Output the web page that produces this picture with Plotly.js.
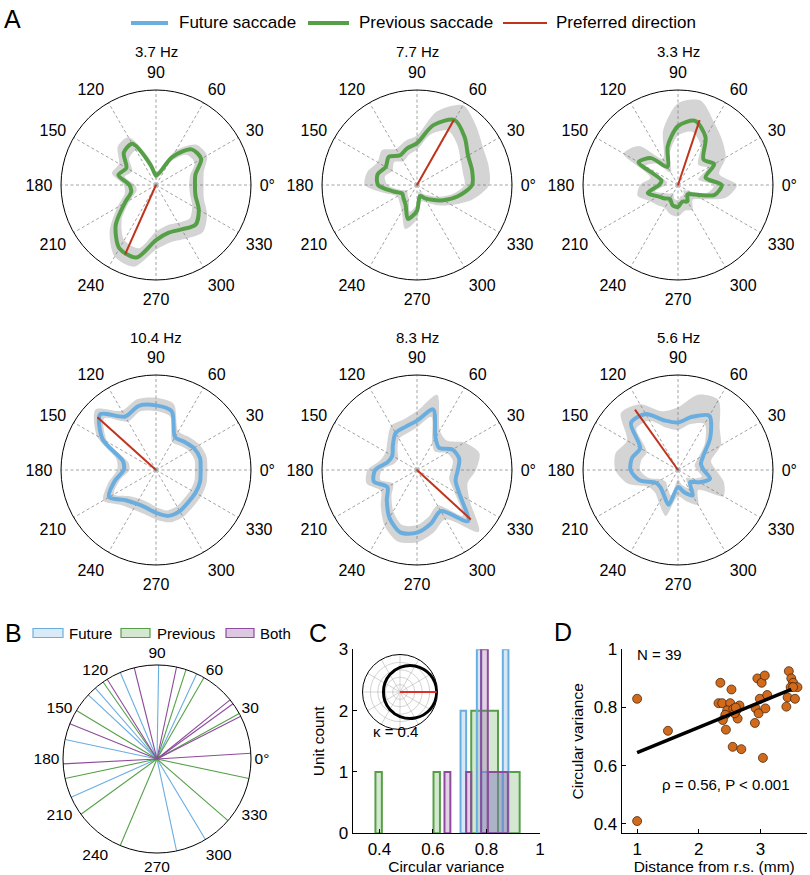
<!DOCTYPE html>
<html><head><meta charset="utf-8">
<script src="https://cdn.plot.ly/plotly-3.0.1.min.js"></script>
<style>html,body{margin:0;padding:0;background:#fff}#chart{width:810px;height:875px}</style>
</head><body><div id="chart"></div>
<script>
// ---------------- DATA ----------------
const tuningAngles = [0,15,30,45,60,75,90,105,120,135,150,165,180,195,210,225,240,255,270,285,300,315,330,345];
const unitRates = ['3.7 Hz','7.7 Hz','3.3 Hz','10.4 Hz','8.3 Hz','5.6 Hz'];
const unitTypes = ['previous','previous','previous','future','future','future'];
const prefAngles = [246, 60.5, 71.6, 138, 317.4, 125.5];
const prefR = [0.80, 0.79, 0.72, 0.83, 0.77, 0.78];

const unit1Mean  = [0.41,0.43,0.55,0.53,0.34,0.13,0.10,0.22,0.50,0.48,0.36,0.41,0.28,0.27,0.38,0.60,0.77,0.79,0.58,0.52,0.54,0.59,0.52,0.43];
const unit1Lower = [0.35,0.37,0.47,0.45,0.27,0.08,0.05,0.15,0.42,0.40,0.29,0.34,0.22,0.21,0.31,0.51,0.67,0.69,0.49,0.44,0.46,0.50,0.44,0.37];
const unit1Upper = [0.50,0.52,0.62,0.60,0.42,0.18,0.14,0.30,0.58,0.57,0.45,0.48,0.34,0.34,0.47,0.69,0.87,0.89,0.68,0.62,0.65,0.70,0.62,0.52];

const unit2Mean  = [0.58,0.60,0.62,0.71,0.79,0.65,0.44,0.40,0.36,0.42,0.38,0.43,0.41,0.26,0.18,0.20,0.24,0.37,0.27,0.12,0.16,0.22,0.32,0.45];
const unit2Lower = [0.50,0.50,0.53,0.60,0.66,0.55,0.37,0.33,0.29,0.34,0.30,0.35,0.31,0.19,0.12,0.14,0.17,0.29,0.20,0.07,0.10,0.15,0.25,0.38];
const unit2Upper = [0.76,0.78,0.80,0.88,0.97,0.80,0.52,0.48,0.44,0.52,0.48,0.54,0.55,0.34,0.24,0.26,0.32,0.48,0.36,0.18,0.22,0.30,0.42,0.60];

const unit3Mean  = [0.46,0.30,0.44,0.38,0.58,0.70,0.62,0.42,0.22,0.40,0.48,0.18,0.20,0.33,0.24,0.20,0.17,0.22,0.23,0.18,0.20,0.14,0.20,0.40];
const unit3Lower = [0.38,0.22,0.36,0.30,0.48,0.58,0.52,0.34,0.15,0.32,0.40,0.12,0.13,0.25,0.17,0.13,0.10,0.15,0.16,0.12,0.13,0.08,0.13,0.32];
const unit3Upper = [0.62,0.45,0.58,0.66,0.76,0.92,0.86,0.60,0.32,0.58,0.66,0.30,0.40,0.44,0.34,0.30,0.28,0.32,0.33,0.28,0.30,0.22,0.30,0.52];

const unit4Mean  = [0.47,0.48,0.46,0.42,0.40,0.64,0.68,0.70,0.65,0.83,0.65,0.36,0.34,0.45,0.57,0.45,0.41,0.41,0.45,0.50,0.50,0.48,0.48,0.48];
const unit4Lower = [0.41,0.42,0.40,0.36,0.34,0.58,0.62,0.64,0.59,0.77,0.59,0.30,0.28,0.39,0.51,0.39,0.35,0.35,0.39,0.44,0.44,0.42,0.42,0.42];
const unit4Upper = [0.54,0.55,0.53,0.49,0.47,0.72,0.76,0.77,0.72,0.90,0.72,0.43,0.41,0.52,0.64,0.52,0.48,0.48,0.52,0.57,0.57,0.55,0.55,0.55];

const unit5Mean  = [0.43,0.46,0.43,0.33,0.39,0.66,0.52,0.47,0.45,0.36,0.30,0.32,0.44,0.47,0.36,0.45,0.58,0.68,0.66,0.58,0.50,0.76,0.52,0.42];
const unit5Lower = [0.36,0.39,0.36,0.27,0.32,0.58,0.45,0.40,0.38,0.29,0.23,0.25,0.37,0.40,0.29,0.38,0.50,0.60,0.58,0.50,0.43,0.68,0.45,0.35];
const unit5Upper = [0.62,0.68,0.58,0.44,0.48,0.82,0.62,0.55,0.54,0.44,0.38,0.40,0.52,0.55,0.44,0.54,0.68,0.78,0.76,0.68,0.60,0.92,0.64,0.55];

const unit6Mean  = [0.27,0.25,0.31,0.48,0.66,0.58,0.50,0.54,0.68,0.70,0.46,0.50,0.50,0.42,0.27,0.26,0.30,0.38,0.18,0.24,0.31,0.18,0.26,0.35];
const unit6Lower = [0.20,0.18,0.24,0.40,0.56,0.50,0.42,0.46,0.60,0.62,0.38,0.40,0.40,0.32,0.20,0.18,0.22,0.28,0.10,0.16,0.22,0.12,0.18,0.26];
const unit6Upper = [0.40,0.36,0.52,0.62,0.85,0.82,0.66,0.64,0.80,0.85,0.62,0.68,0.66,0.55,0.36,0.34,0.40,0.50,0.28,0.34,0.42,0.30,0.55,0.50];

const angleTickVals = [0,30,60,90,120,150,180,210,240,270,300,330];
const angleTickText = ['0°','30','60','90','120','150','180','210','240','270','300','330'];

// Panel B: preferred directions of significant units
const futureDirs   = [89, 65, 113, 131, 137, 168, 204, 282, 301];
const previousDirs = [72, 60, 29, 348, 319, 247, 216, 192, 149, 125];
const bothDirs     = [78, 39, 36, 27, 3.5, 183, 158, 122, 104];

// Panel C: circular variance histograms (bin left edge, right edge, count)
const futureBinLeft  = [0.703, 0.764, 0.780, 0.861];
const futureBinRight = [0.724, 0.780, 0.861, 0.882];
const futureCount    = [2, 3, 1, 3];
const previousBinLeft  = [0.385, 0.602, 0.743, 0.843];
const previousBinRight = [0.409, 0.626, 0.843, 0.924];
const previousCount    = [1, 1, 2, 1];
const bothBinLeft  = [0.643, 0.724, 0.780, 0.805];
const bothBinRight = [0.665, 0.743, 0.805, 0.880];
const bothCount    = [1, 1, 3, 1];
const kappaAngles = [0,30,60,90,120,150,180,210,240,270,300,330,360];
const kappaR      = [1.49,1.41,1.22,1.0,0.82,0.71,0.67,0.71,0.82,1.0,1.22,1.41,1.49];
const cvTicks = [0.4, 0.6, 0.8, 1];
const countTicks = [0, 1, 2, 3];

// Panel D: circular variance vs distance from rhinal sulcus
const distMm = [1.00,1.00,1.50,2.35,2.32,2.38,2.53,2.51,2.46,2.43,2.39,2.44,2.55,2.69,2.56,2.61,2.63,2.66,2.58,
                2.91,2.92,2.97,2.99,2.95,3.02,3.07,3.11,3.08,3.04,3.46,3.50,3.53,3.49,3.60,3.44,3.42,3.56,3.53,2.60];
const circVar = [0.830,0.410,0.720,0.885,0.815,0.815,0.862,0.815,0.790,0.775,0.757,0.724,0.665,0.657,0.795,0.790,0.762,0.807,0.780,
                 0.747,0.798,0.780,0.830,0.900,0.885,0.910,0.843,0.797,0.627,0.925,0.900,0.885,0.870,0.870,0.835,0.803,0.830,0.870,0.800];
const fitX = [1.0, 3.5];
const fitY = [0.645, 0.862];
const distTicks = [1, 2, 3];
const cvTicksD = [0.4, 0.6, 0.8, 1];

// ---------------- STYLE / LAYOUT ----------------
const W = 810, H = 875;
const FONT = 'Liberation Sans, Arial, Helvetica, sans-serif';
const COL = {future:'#6aaee0', previous:'#55a047', both:'#8e4a9c', red:'#c0331c'};
const px = x => x / W;
const py = y => 1 - y / H;
function dom(cx, cy, R) { return {x:[px(cx-R), px(cx+R)], y:[py(cy+R), py(cy-R)]}; }

const centers = [[156,185],[417,185],[678,185],[156,470],[417,470],[678,470]];
const RAD = 95;
const means = [unit1Mean,unit2Mean,unit3Mean,unit4Mean,unit5Mean,unit6Mean];
const lowers = [unit1Lower,unit2Lower,unit3Lower,unit4Lower,unit5Lower,unit6Lower];
const uppers = [unit1Upper,unit2Upper,unit3Upper,unit4Upper,unit5Upper,unit6Upper];
const close = a => a.concat([a[0]]);

function polarCfg(d, grid, tlen, fsize) {
  return {
    domain: d, bgcolor: 'rgba(0,0,0,0)',
    radialaxis: {visible: false, range: [0, 1], showgrid: false},
    angularaxis: {
      tickvals: angleTickVals, ticktext: angleTickText, direction: 'counterclockwise', rotation: 0,
      showline: true, linecolor: '#000', linewidth: 1,
      showgrid: grid, gridcolor: '#8a8a8a', gridwidth: 0.8, griddash: '3px,2.5px',
      ticks: 'outside', ticklen: tlen, tickcolor: 'rgba(0,0,0,0)',
      tickfont: {family: FONT, size: fsize, color: '#000'}
    }
  };
}

const traces = [];
const layout = {
  width: W, height: H, margin: {l:0, r:0, t:0, b:0},
  paper_bgcolor: '#fff', plot_bgcolor: 'rgba(0,0,0,0)', showlegend: false,
  font: {family: FONT, color: '#000'},
  annotations: [], shapes: []
};

for (let i = 0; i < 6; i++) {
  const sp = i === 0 ? 'polar' : 'polar' + (i + 1);
  layout[sp] = polarCfg(dom(centers[i][0], centers[i][1], RAD), true, 5, 16);
  const th = close(tuningAngles);
  traces.push({type:'scatterpolar', subplot: sp, r: close(lowers[i]), theta: th, mode:'lines',
    line:{width:0, shape:'spline', smoothing:0.8}, hoverinfo:'skip'});
  traces.push({type:'scatterpolar', subplot: sp, r: close(uppers[i]), theta: th, mode:'lines',
    line:{width:0, shape:'spline', smoothing:0.8}, fill:'tonext', fillcolor:'rgba(120,120,120,0.32)', hoverinfo:'skip'});
  traces.push({type:'scatterpolar', subplot: sp, r: close(means[i]), theta: th, mode:'lines',
    line:{width:4, color: COL[unitTypes[i]], shape:'spline', smoothing:0.8}, name: unitRates[i]});
  traces.push({type:'scatterpolar', subplot: sp, r: [0, prefR[i]], theta: [prefAngles[i], prefAngles[i]], mode:'lines',
    line:{width:2, color: COL.red}, name:'Preferred direction'});
  layout.annotations.push({xref:'paper', yref:'paper', x: px(centers[i][0]), y: py(centers[i][1] - 133),
    text: unitRates[i], showarrow:false, font:{size:15}, xanchor:'center', yanchor:'middle'});
}

// Panel B
layout.polar7 = polarCfg(dom(157, 759, 94), false, 0, 15.5);
function spokes(dirs) {
  const r = [], t = [];
  dirs.forEach(a => { r.push(0, 1, null); t.push(a, a, null); });
  return {r, t};
}
[['future', futureDirs, 'Future'], ['previous', previousDirs, 'Previous'], ['both', bothDirs, 'Both']].forEach(([k, dirs, nm]) => {
  const s = spokes(dirs);
  traces.push({type:'scatterpolar', subplot:'polar7', r: s.r, theta: s.t, mode:'lines',
    line:{width:1.1, color: COL[k]}, name: nm, connectgaps:false});
});

// Panel C inset
layout.polar8 = {
  domain: dom(400, 692, 37.5), bgcolor: 'rgba(0,0,0,0)',
  radialaxis: {range:[0, 1.52], tickvals:[0.3,0.6,0.9,1.2], showticklabels:false, ticks:'', showline:false,
    showgrid:true, gridcolor:'#b5b5b5', gridwidth:0.6},
  angularaxis: {dtick:30, showticklabels:false, ticks:'', showline:true, linecolor:'#000', linewidth:1,
    showgrid:true, gridcolor:'#b5b5b5', gridwidth:0.6}
};
traces.push({type:'scatterpolar', subplot:'polar8', r: kappaR, theta: kappaAngles, mode:'lines',
  line:{color:'#000', width:3, shape:'spline'}, name:'von Mises'});
traces.push({type:'scatterpolar', subplot:'polar8', r: [0, kappaR[0]], theta: [0, 0], mode:'lines',
  line:{color:'#e0302a', width:2}, name:'mean'});

// Panel C histograms
function hist(left, right, count, k, fill) {
  return {type:'bar', xaxis:'x', yaxis:'y',
    x: left.map((l, j) => (l + right[j]) / 2), width: left.map((l, j) => right[j] - l), y: count,
    marker:{color: fill, line:{color: COL[k], width:2}}, name:k};
}
traces.push(hist(previousBinLeft, previousBinRight, previousCount, 'previous', 'rgba(85,160,71,0.25)'));
traces.push(hist(futureBinLeft, futureBinRight, futureCount, 'future', 'rgba(106,174,224,0.28)'));
traces.push(hist(bothBinLeft, bothBinRight, bothCount, 'both', 'rgba(142,74,156,0.25)'));
layout.barmode = 'overlay';

const axBase = {showline:true, linecolor:'#000', linewidth:1, ticks:'inside', ticklen:4, tickcolor:'#000',
  showgrid:false, zeroline:false, tickfont:{size:17}, fixedrange:true};
layout.xaxis = Object.assign({}, axBase, {domain:[px(352.7), px(540)], range:[0.3, 1.0], anchor:'y',
  tickvals: cvTicks, ticktext: ['0.4','0.6','0.8','1'],
  title:{text:'Circular variance', font:{size:15.5}, standoff:3}});
layout.yaxis = Object.assign({}, axBase, {domain:[py(833.3), py(649.3)], range:[0, 3], anchor:'x',
  tickvals: countTicks, title:{text:'Unit count', font:{size:15.5}, standoff:10}});
layout.annotations.push({xref:'paper', yref:'paper', x: px(395), y: py(742), text:'κ = 0.4',
  showarrow:false, font:{size:15}});

// Panel D
traces.push({type:'scatter', xaxis:'x2', yaxis:'y2', x: distMm, y: circVar, mode:'markers',
  marker:{size:9, color:'#d06b1e', line:{color:'#3a1a00', width:0.7}}, name:'units'});
traces.push({type:'scatter', xaxis:'x2', yaxis:'y2', x: fitX, y: fitY, mode:'lines',
  line:{color:'#000', width:3.5}, name:'fit'});
layout.xaxis2 = Object.assign({}, axBase, {domain:[px(621.7), px(806.7)], range:[0.75, 3.75], anchor:'y2',
  tickvals: distTicks, title:{text:'Distance from r.s. (mm)', font:{size:15.5}, standoff:3}});
layout.yaxis2 = Object.assign({}, axBase, {domain:[py(833.3), py(649.3)], range:[0.368, 1.0], anchor:'x2',
  tickvals: cvTicksD, ticktext:['0.4','0.6','0.8','1'], title:{text:'Circular variance', font:{size:15.5}, standoff:6}});
layout.annotations.push({xref:'paper', yref:'paper', x: px(635), y: py(665), text:'N = 39',
  showarrow:false, font:{size:15}, xanchor:'left'});
layout.annotations.push({xref:'paper', yref:'paper', x: px(726), y: py(795), text:'ρ = 0.56, P < 0.001',
  showarrow:false, font:{size:15}, xanchor:'center'});

// Panel letters
[['A', 12, 19], ['B', 13, 633], ['C', 318, 633], ['D', 563, 632]].forEach(([t, x, y]) => {
  layout.annotations.push({xref:'paper', yref:'paper', x: px(x), y: py(y), text: t, showarrow:false,
    font:{size:25}, xanchor:'center', yanchor:'middle'});
});

// Legend A (line swatches)
[[131, 168, 4, COL.future, 177, 'Future saccade'], [308, 349, 4, COL.previous, 357, 'Previous saccade'],
 [503, 547, 2, COL.red, 554, 'Preferred direction']].forEach(([x0, x1, w, c, tx, t]) => {
  layout.shapes.push({type:'line', xref:'paper', yref:'paper', x0: px(x0), x1: px(x1), y0: py(23), y1: py(23),
    line:{color:c, width:w}});
  layout.annotations.push({xref:'paper', yref:'paper', x: px(tx), y: py(23), text: t, showarrow:false,
    font:{size:17}, xanchor:'left', yanchor:'middle'});
});
// Legend B (box swatches)
[[33, 63, COL.future, 'rgba(106,174,224,0.25)', 67, 'Future'], [121, 150, COL.previous, 'rgba(85,160,71,0.25)', 155, 'Previous'],
 [226, 254, COL.both, 'rgba(142,74,156,0.3)', 258, 'Both']].forEach(([x0, x1, c, f, tx, t]) => {
  layout.shapes.push({type:'rect', xref:'paper', yref:'paper', x0: px(x0), x1: px(x1), y0: py(637.5), y1: py(628.5),
    line:{color:c, width:1.2}, fillcolor: f});
  layout.annotations.push({xref:'paper', yref:'paper', x: px(tx), y: py(633), text: t, showarrow:false,
    font:{size:15}, xanchor:'left', yanchor:'middle'});
});

Plotly.newPlot('chart', traces, layout, {displayModeBar:false, staticPlot:true});
</script></body></html>
